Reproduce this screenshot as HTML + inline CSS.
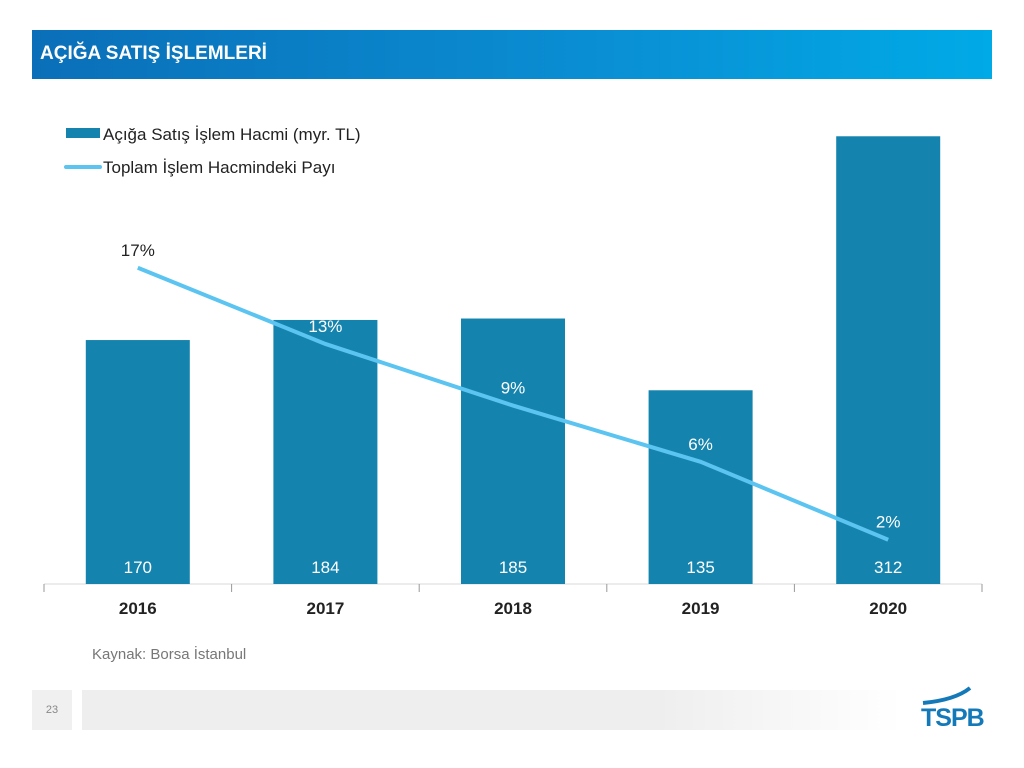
<!DOCTYPE html>
<html><head><meta charset="utf-8"><style>
body{margin:0;width:1024px;height:768px;background:#fff;font-family:"Liberation Sans","DejaVu Sans",sans-serif;position:relative;overflow:hidden}
.hdr{position:absolute;left:32px;top:30px;width:960px;height:49px;background:linear-gradient(90deg,#0a6fb8,#0a8fd4 60%,#00aae6)}
.hdr span{position:absolute;left:8px;top:13px;color:#fff;font-weight:bold;font-size:19px}
</style></head><body>
<div class="hdr"><span>AÇIĞA SATIŞ İŞLEMLERİ</span></div>
<svg id="chart" width="1024" height="768" style="position:absolute;left:0;top:0"></svg>
<div style="position:absolute;left:92px;top:646px;font-size:15px;color:#777">Kaynak: Borsa İstanbul</div>
<div style="position:absolute;left:32px;top:690px;width:40px;height:40px;background:#f0f0f0;color:#888;font-size:11px;line-height:40px;text-align:center">23</div>
<div style="position:absolute;left:82px;top:690px;width:820px;height:40px;background:linear-gradient(90deg,#eee,#eee 70%,#fff)"></div>
<div style="position:absolute;left:921px;top:704px;font-weight:bold;font-size:25px;color:#1479b8;letter-spacing:-1px">TSPB</div>
<svg width="60" height="30" style="position:absolute;left:920px;top:686px"><path d="M3 17 Q35 14 50 2" stroke="#1479b8" stroke-width="4" fill="none"/></svg>
<script>
const categories=["2016","2017","2018","2019","2020"];
const volumes=[170,184,185,135,312];
const shares=[17,12.8,9.4,6.3,2];
const shareLabels=["17%","13%","9%","6%","2%"];
const svg=document.getElementById('chart');const NS="http://www.w3.org/2000/svg";
function mk(t,a,txt){const e=document.createElementNS(NS,t);for(const k in a)e.setAttribute(k,a[k]);if(txt!==undefined)e.textContent=txt;svg.appendChild(e);return e;}
const x0=44,cw=187.6,base=584;
const xc=i=>x0+cw*(i+0.5);
const yb=v=>base-v*1.435;
const yl=v=>576-v*18.13;
let ax=mk('line',{x1:x0,y1:base,x2:x0+cw*5,y2:base,stroke:'#d9d9d9','stroke-width':1});

for(let i=0;i<=5;i++){let t=mk('line',{x1:x0+cw*i,y1:base,x2:x0+cw*i,y2:base+8,stroke:'#999'});
}
volumes.forEach((v,i)=>{
let r=mk('rect',{x:xc(i)-52,y:yb(v),width:104,height:base-yb(v),fill:'#1483ad'});

let t=mk('text',{x:xc(i),y:573,'text-anchor':'middle','font-size':17,fill:'#fff'},String(v));

let c=mk('text',{x:xc(i),y:614,'text-anchor':'middle','font-size':17,'font-weight':'bold',fill:'#222'},categories[i]);

});
let pl=mk('polyline',{points:shares.map((v,i)=>xc(i)+','+yl(v)).join(' '),fill:'none',stroke:'#5bc4f1','stroke-width':4});

shares.forEach((v,i)=>{let t=mk('text',{x:xc(i),y:yl(v)-12,'text-anchor':'middle','font-size':17,fill:i==0?'#222':'#fff'},shareLabels[i]);
});
let lr=mk('rect',{x:66,y:128,width:34,height:10,fill:'#1483ad'});

let lt=mk('text',{x:103,y:140,'font-size':17,fill:'#222'},'Açığa Satış İşlem Hacmi (myr. TL)');

let ll=mk('line',{x1:66,y1:167,x2:100,y2:167,stroke:'#5bc4f1','stroke-width':4,'stroke-linecap':'round'});

let lt2=mk('text',{x:103,y:173,'font-size':17,fill:'#222'},'Toplam İşlem Hacmindeki Payı');

</script>
</body></html>
